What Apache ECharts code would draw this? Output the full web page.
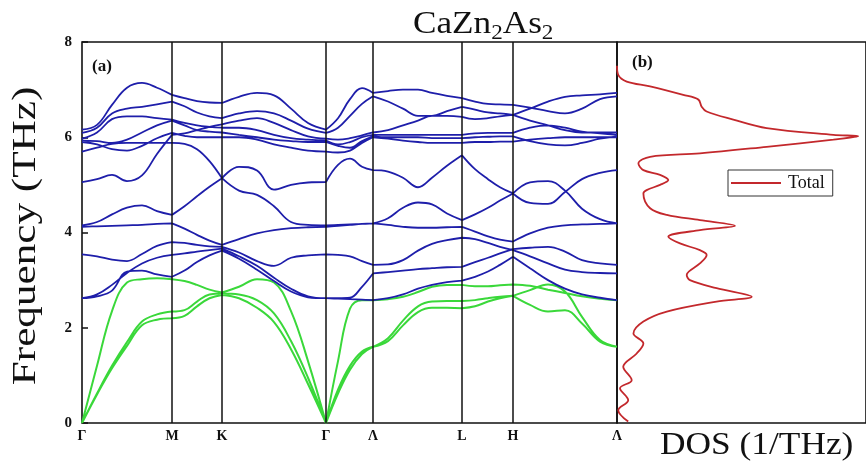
<!DOCTYPE html>
<html>
<head>
<meta charset="utf-8">
<script src="https://cdn.jsdelivr.net/npm/echarts@6/dist/echarts.min.js"></script>
<style>
  html, body { margin: 0; padding: 0; background: #fff; }
  #chart { width: 866px; height: 470px; }
</style>
</head>
<body>
<div id="chart"></div>
<script>
// High-symmetry points along the k-path (path distance units)
const kTicks = [0, 90, 140, 244, 291, 380, 431, 535];
const kLabels = ['Γ', 'M', 'K', 'Γ', 'Λ', 'L', 'H', 'Λ'];

// Γ–M
const kGM = [0, 15, 30, 45, 60, 75, 90];
const acGM = [
  [0, 1.2, 2.35, 2.95, 3.02, 3.04, 3.02],
  [0, 0.62, 1.2, 1.7, 2.13, 2.28, 2.34],
  [0, 0.6, 1.15, 1.62, 2.05, 2.17, 2.2]
];
const opGM = [
  [2.62, 2.66, 2.78, 3.18, 3.2, 3.12, 3.07],
  [2.62, 2.7, 2.9, 3.15, 3.35, 3.47, 3.53],
  [3.54, 3.5, 3.43, 3.4, 3.55, 3.72, 3.80],
  [4.12, 4.13, 4.14, 4.15, 4.16, 4.18, 4.19],
  [4.15, 4.22, 4.38, 4.52, 4.57, 4.45, 4.37],
  [5.06, 5.12, 5.21, 5.08, 5.2, 5.65, 6.05],
  [5.70, 5.78, 5.86, 5.88, 5.88, 5.88, 5.88],
  [5.90, 5.85, 5.75, 5.72, 5.82, 5.98, 6.09],
  [5.93, 5.92, 5.88, 5.95, 6.1, 6.25, 6.35],
  [5.97, 6.1, 6.38, 6.44, 6.44, 6.40, 6.37],
  [6.09, 6.2, 6.5, 6.6, 6.64, 6.69, 6.75],
  [6.16, 6.26, 6.68, 7.04, 7.14, 7.04, 6.89]
];

// M–K
const kMK = [90, 102.5, 115, 127.5, 140];
const acMK = [
  [3.02, 2.98, 2.9, 2.8, 2.74],
  [2.34, 2.37, 2.55, 2.7, 2.72],
  [2.2, 2.25, 2.45, 2.62, 2.69]
];
const opMK = [
  [3.07, 3.2, 3.38, 3.52, 3.62],
  [3.53, 3.56, 3.6, 3.63, 3.66],
  [3.80, 3.78, 3.74, 3.71, 3.70],
  [4.19, 4.08, 3.95, 3.83, 3.74],
  [4.37, 4.55, 4.76, 4.96, 5.14],
  [5.88, 5.86, 5.75, 5.5, 5.14],
  [6.05, 6.08, 6.15, 6.22, 6.27],
  [6.09, 6.03, 6.0, 6.0, 6.0],
  [6.35, 6.25, 6.15, 6.12, 6.1],
  [6.37, 6.3, 6.25, 6.22, 6.2],
  [6.75, 6.65, 6.52, 6.44, 6.40],
  [6.89, 6.82, 6.76, 6.73, 6.72]
];

// K–Γ
const kKG = [140, 157, 175, 192, 209, 226, 244];
const acKG = [
  [2.74, 2.86, 3.02, 2.95, 2.35, 1.3, 0],
  [2.72, 2.7, 2.58, 2.3, 1.72, 0.95, 0],
  [2.69, 2.62, 2.42, 2.12, 1.55, 0.82, 0]
];
const opKG = [
  [3.62, 3.45, 3.22, 2.98, 2.76, 2.64, 2.62],
  [3.66, 3.5, 3.3, 3.05, 2.82, 2.66, 2.62],
  [3.70, 3.58, 3.4, 3.3, 3.47, 3.52, 3.54],
  [3.74, 3.86, 3.98, 4.05, 4.09, 4.11, 4.12],
  [5.14, 4.88, 4.79, 4.55, 4.22, 4.16, 4.15],
  [5.14, 5.38, 5.3, 4.9, 5.0, 5.05, 5.06],
  [6.0, 6.0, 5.95, 5.85, 5.78, 5.72, 5.70],
  [6.1, 6.05, 6.0, 5.95, 5.92, 5.90, 5.90],
  [6.2, 6.2, 6.15, 6.05, 5.98, 5.95, 5.93],
  [6.27, 6.35, 6.4, 6.3, 6.15, 6.02, 5.97],
  [6.40, 6.5, 6.55, 6.5, 6.35, 6.18, 6.09],
  [6.72, 6.85, 6.93, 6.88, 6.6, 6.3, 6.16]
];

// Γ–A
const kGA = [244, 256, 268, 280, 291];
const acGA = [
  [0, 1.3, 2.4, 2.58, 2.58],
  [0, 0.7, 1.2, 1.5, 1.6],
  [0, 0.62, 1.12, 1.45, 1.6]
];
const opGA = [
  [2.62, 2.61, 2.6, 2.59, 2.58],
  [2.62, 2.62, 2.63, 2.86, 3.14],
  [3.54, 3.53, 3.5, 3.4, 3.32],
  [4.12, 4.14, 4.16, 4.18, 4.19],
  [4.15, 4.16, 4.17, 4.18, 4.19],
  [5.06, 5.42, 5.55, 5.38, 5.31],
  [5.70, 5.68, 5.72, 5.88, 6.0],
  [5.90, 5.82, 5.78, 5.92, 6.02],
  [5.93, 5.85, 5.9, 6.0, 6.05],
  [5.97, 5.95, 5.98, 6.04, 6.1],
  [6.09, 6.2, 6.45, 6.7, 6.86],
  [6.16, 6.4, 6.8, 7.03, 6.93]
];

// A–L
const kAL = [291, 306, 321, 336, 350, 365, 380];
const acAL = [
  [2.58, 2.6, 2.65, 2.75, 2.86, 2.9, 2.9],
  [1.6, 1.78, 2.15, 2.45, 2.55, 2.56, 2.56],
  [1.6, 1.72, 2.05, 2.33, 2.42, 2.42, 2.41]
];
const opAL = [
  [2.58, 2.62, 2.7, 2.82, 2.9, 2.96, 2.99],
  [3.14, 3.17, 3.2, 3.23, 3.25, 3.27, 3.28],
  [3.32, 3.33, 3.42, 3.62, 3.76, 3.84, 3.89],
  [4.19, 4.16, 4.12, 4.1, 4.1, 4.11, 4.12],
  [4.19, 4.3, 4.52, 4.63, 4.59, 4.4, 4.26],
  [5.31, 5.28, 5.15, 4.95, 5.15, 5.4, 5.62],
  [6.0, 5.97, 5.93, 5.9, 5.88, 5.88, 5.88],
  [6.02, 6.0, 6.0, 6.0, 5.98, 5.98, 5.98],
  [6.05, 6.05, 6.05, 6.05, 6.05, 6.05, 6.05],
  [6.1, 6.15, 6.25, 6.35, 6.45, 6.45, 6.43],
  [6.86, 6.75, 6.6, 6.45, 6.45, 6.55, 6.64],
  [6.93, 6.97, 7.0, 7.0, 6.93, 6.87, 6.82]
];

// L–H
const kLH = [380, 393, 406, 418, 431];
const acLH = [
  [2.9, 2.87, 2.87, 2.89, 2.91],
  [2.56, 2.58, 2.62, 2.65, 2.67],
  [2.41, 2.45, 2.55, 2.62, 2.67]
];
const opLH = [
  [2.99, 3.07, 3.18, 3.32, 3.49],
  [3.28, 3.38, 3.47, 3.56, 3.65],
  [3.89, 3.86, 3.78, 3.7, 3.63],
  [4.12, 4.02, 3.92, 3.85, 3.81],
  [4.26, 4.38, 4.52, 4.67, 4.82],
  [5.62, 5.33, 5.12, 4.95, 4.82],
  [5.88, 5.9, 5.9, 5.91, 5.91],
  [5.98, 6.0, 6.01, 6.02, 6.02],
  [6.05, 6.08, 6.09, 6.09, 6.09],
  [6.43, 6.38, 6.4, 6.44, 6.47],
  [6.64, 6.58, 6.52, 6.5, 6.47],
  [6.82, 6.75, 6.7, 6.69, 6.68]
];

// H–A
const kHA = [431, 448, 466, 483, 500, 518, 535];
const acHA = [
  [2.91, 2.88, 2.8, 2.73, 2.66, 2.61, 2.58],
  [2.67, 2.79, 2.91, 2.76, 2.23, 1.74, 1.6],
  [2.67, 2.48, 2.34, 2.37, 2.09, 1.71, 1.6]
];
const opHA = [
  [3.49, 3.25, 3.0, 2.82, 2.7, 2.63, 2.58],
  [3.63, 3.5, 3.35, 3.22, 3.17, 3.15, 3.14],
  [3.65, 3.68, 3.7, 3.6, 3.42, 3.35, 3.32],
  [3.81, 3.98, 4.1, 4.15, 4.17, 4.18, 4.19],
  [4.82, 5.05, 5.08, 4.88, 4.5, 4.28, 4.19],
  [4.82, 4.62, 4.6, 4.85, 5.12, 5.25, 5.31],
  [5.91, 5.95, 5.98, 6.0, 6.0, 6.0, 6.0],
  [6.02, 5.92, 5.85, 5.83, 5.88, 5.97, 6.02],
  [6.09, 6.2, 6.25, 6.2, 6.12, 6.08, 6.05],
  [6.47, 6.35, 6.25, 6.15, 6.1, 6.1, 6.1],
  [6.68, 6.62, 6.55, 6.5, 6.6, 6.8, 6.86],
  [6.47, 6.6, 6.75, 6.85, 6.88, 6.9, 6.93]
];

// Total phonon density of states
const dosFreq = [7.5, 7.31, 7.17, 7.07, 6.89, 6.79, 6.64, 6.54, 6.37, 6.19, 6.05, 6.02, 5.95, 5.80, 5.66, 5.59, 5.45, 5.31, 5.21, 5.10, 5.0, 4.89, 4.82, 4.51, 4.37, 4.26, 4.14, 4.05, 3.91, 3.77, 3.63, 3.53, 3.35, 3.11, 3.0, 2.83, 2.65, 2.55, 2.34, 2.13, 1.88, 1.67, 1.46, 1.18, 0.9, 0.73, 0.48, 0.27, 0.03];
const dosTotal = [0, 0.005, 0.039, 0.133, 0.266, 0.327, 0.34, 0.36, 0.467, 0.601, 0.869, 0.969, 0.869, 0.601, 0.333, 0.133, 0.086, 0.106, 0.173, 0.206, 0.173, 0.119, 0.106, 0.133, 0.2, 0.333, 0.474, 0.333, 0.206, 0.253, 0.333, 0.36, 0.333, 0.28, 0.293, 0.4, 0.541, 0.4, 0.2, 0.106, 0.066, 0.106, 0.079, 0.025, 0.059, 0.012, 0.045, 0.005, 0.045];

const segments = [
  [kGM, acGM, opGM], [kMK, acMK, opMK], [kKG, acKG, opKG], [kGA, acGA, opGA],
  [kAL, acAL, opAL], [kLH, acLH, opLH], [kHA, acHA, opHA]
];

// Join every branch piece into one polyline per colour, broken between pieces
function branchData(which) {
  const out = [];
  segments.forEach(seg => {
    const ks = seg[0];
    seg[which].forEach(band => {
      band.forEach((f, i) => out.push([ks[i], f]));
      out.push([null, null]);
    });
  });
  return out;
}

const SERIF = '"Liberation Serif", "Times New Roman", serif';
const BLUE = '#1e1eaa';
const GREEN = '#3ad83a';
const RED = '#c3282c';
const INK = '#111';

const chart = echarts.init(document.getElementById('chart'), null, { renderer: 'canvas' });
chart.setOption({
  animation: false,
  backgroundColor: '#fff',
  legend: {
    data: [{ name: 'Total', icon: 'rect' }],
    left: 728, top: 170,
    padding: [4, 8, 4, 3],
    itemGap: 6,
    itemWidth: 50, itemHeight: 2,
    borderColor: '#333', borderWidth: 1,
    textStyle: { fontFamily: SERIF, fontSize: 18, color: INK, padding: [0, 0, 0, 2] }
  },
  graphic: [
    {
      type: 'text', x: 413, y: 6, scaleX: 1.1,
      style: {
        text: 'CaZn{s|2}As{s|2}', font: '32px ' + SERIF, fill: INK,
        rich: { s: { font: '21px ' + SERIF, fill: INK, padding: [17, 0, 0, 0] } }
      }
    },
    {
      type: 'text', x: 26, y: 236, rotation: Math.PI / 2, scaleX: 1.27,
      style: { text: 'Frequency (THz)', font: '34px ' + SERIF, fill: INK, align: 'center', verticalAlign: 'middle' }
    },
    {
      type: 'text', x: 660, y: 446, scaleX: 1.14,
      style: { text: 'DOS (1/THz)', font: '31px ' + SERIF, fill: INK, align: 'left', verticalAlign: 'middle' }
    },
    { type: 'text', x: 92, y: 58, style: { text: '(a)', font: 'bold 17px ' + SERIF, fill: INK } },
    { type: 'text', x: 632, y: 54, style: { text: '(b)', font: 'bold 17px ' + SERIF, fill: INK } }
  ],
  grid: [
    { left: 82, top: 42, width: 535, height: 381, show: true, borderColor: INK, borderWidth: 1.6, backgroundColor: 'transparent' },
    { left: 617, top: 42, width: 249, height: 381, show: true, borderColor: INK, borderWidth: 1.6, backgroundColor: 'transparent' }
  ],
  xAxis: [
    {
      type: 'value', gridIndex: 0, min: 0, max: 535,
      axisLine: { show: false }, axisTick: { show: false }, splitLine: { show: false },
      axisLabel: {
        customValues: kTicks,
        formatter: v => kLabels[kTicks.indexOf(v)] || '',
        margin: 6, fontFamily: SERIF, fontWeight: 'bold', fontSize: 14, color: INK
      }
    },
    { type: 'value', gridIndex: 1, min: 0, max: 1, show: false }
  ],
  yAxis: [
    {
      type: 'value', gridIndex: 0, min: 0, max: 8, interval: 2,
      axisLine: { show: false },
      axisTick: { show: true, inside: true, length: 6, lineStyle: { color: INK, width: 1.5 } },
      splitLine: { show: false },
      axisLabel: { margin: 10, fontFamily: SERIF, fontWeight: 'bold', fontSize: 15, color: INK }
    },
    { type: 'value', gridIndex: 1, min: 0, max: 8, show: false }
  ],
  series: [
    {
      name: 'acoustic', type: 'line', xAxisIndex: 0, yAxisIndex: 0,
      data: branchData(1), smooth: 0.4, symbol: 'none', connectNulls: false,
      lineStyle: { color: GREEN, width: 2 }, silent: true, z: 2
    },
    {
      name: 'optical', type: 'line', xAxisIndex: 0, yAxisIndex: 0,
      data: branchData(2), smooth: 0.4, symbol: 'none', connectNulls: false,
      lineStyle: { color: BLUE, width: 1.8 }, silent: true, z: 3,
      markLine: {
        symbol: 'none', silent: true, label: { show: false },
        lineStyle: { color: INK, width: 1.5, type: 'solid' },
        data: kTicks.slice(1, -1).map(v => ({ xAxis: v }))
      }
    },
    {
      name: 'Total', type: 'line', xAxisIndex: 1, yAxisIndex: 1,
      data: dosTotal.map((d, i) => [d, dosFreq[i]]),
      smooth: 0.35, symbol: 'none', color: RED,
      lineStyle: { color: RED, width: 1.8 }, silent: true
    }
  ]
});
</script>
</body>
</html>
